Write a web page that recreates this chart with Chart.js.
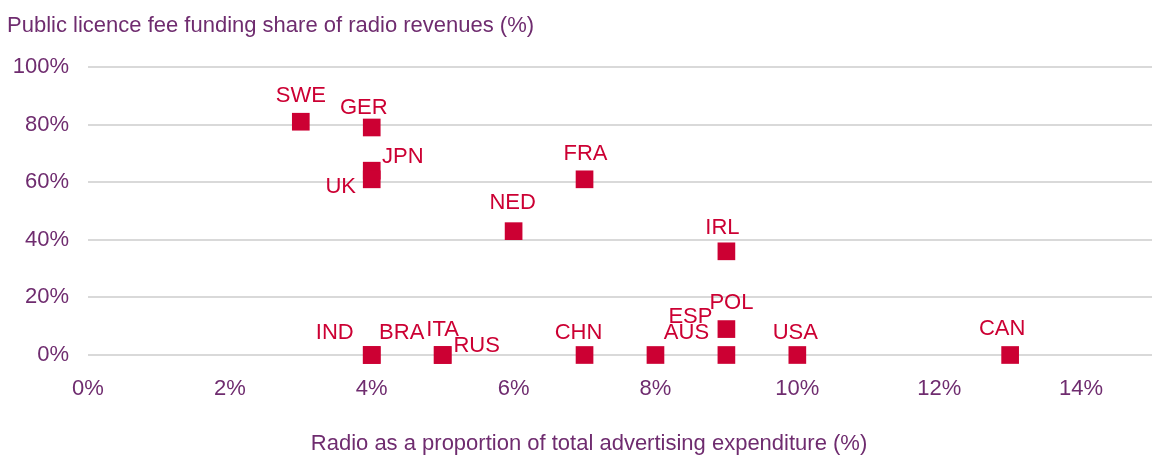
<!DOCTYPE html>
<html>
<head>
<meta charset="utf-8">
<script src="https://cdn.jsdelivr.net/npm/chart.js@4"></script>
<style>
  body { margin: 0; background: #fff; }
  #wrap { width: 1152px; height: 455px; }
</style>
</head>
<body>
<div id="wrap"><canvas id="radioChart" width="1152" height="455"></canvas></div>
<script>
// Radio: licence fee share vs share of ad spend
const countries = ['SWE', 'GER', 'JPN', 'UK', 'FRA', 'NED', 'IRL', 'POL', 'ESP', 'AUS', 'USA', 'CAN', 'CHN', 'IND', 'BRA', 'ITA', 'RUS']
const adSpendShare = [3, 4, 4, 4, 7, 6, 9, 9, 9, 8, 10, 13, 7, 4, 4, 5, 5]
const licenceShare = [81, 79, 64, 61, 61, 43, 36, 9, 0, 0, 0, 0, 0, 0, 0, 0, 0]
const xTicks = [0, 2, 4, 6, 8, 10, 12, 14]
const yTicks = [0, 20, 40, 60, 80, 100]

const xTitle = 'Radio as a proportion of total advertising expenditure (%)'
const yTitle = 'Public licence fee funding share of radio revenues (%)'

// label nudges (px) relative to each marker, like the hand-placed Excel labels
const labelNudge = [
  [0, -26], [-8, -20], [31, -14], [-31, 8], [1, -25], [-1, -28], [-4, -23],
  [5, -26], [-36, -38], [31, -22], [-2, -22], [-8, -26], [-6, -22],
  [-37, -22], [30, -22], [0, -25], [34, -9]
]

const RED = '#cc0033'
const PURPLE = '#6f2c6f'
const FONT = "'Liberation Sans', Arial, sans-serif"

const points = adSpendShare.map((x, i) => ({ x: x, y: licenceShare[i] }))

const labelsPlugin = {
  id: 'extras',
  afterDatasetsDraw(chart) {
    const ctx = chart.ctx
    const meta = chart.getDatasetMeta(0)
    ctx.save()
    ctx.font = '22px ' + FONT
    ctx.fillStyle = RED
    ctx.textAlign = 'center'
    ctx.textBaseline = 'middle'
    meta.data.forEach((pt, i) => {
      ctx.fillText(countries[i], pt.x + labelNudge[i][0], pt.y + labelNudge[i][1])
    })

    // axis titles
    ctx.fillStyle = PURPLE
    ctx.textAlign = 'left'
    ctx.textBaseline = 'alphabetic'
    ctx.fillText(yTitle, 7, 32)
    ctx.textAlign = 'center'
    ctx.fillText(xTitle, 589, 450)
    ctx.restore()
  }
}

new Chart(document.getElementById('radioChart'), {
  type: 'scatter',
  data: {
    datasets: [
      {
        label: 'Countries',
        data: points,
        clip: false,
        pointStyle: 'rect',
        pointRadius: 12.5,
        pointHoverRadius: 12.5,
        backgroundColor: RED,
        borderWidth: 0
      }
    ]
  },
  options: {
    responsive: false,
    animation: false,
    layout: { autoPadding: false, padding: { top: 67, right: 0, left: 0, bottom: 0 } },
    plugins: {
      legend: { display: false },
      tooltip: { enabled: false }
    },
    scales: {
      x: {
        type: 'linear',
        min: 0,
        max: 15,
        afterFit(scale) { scale.height = 100 },
        afterBuildTicks(scale) { scale.ticks = xTicks.map(v => ({ value: v })) },
        grid: { display: false, drawTicks: false },
        border: { display: false },
        ticks: {
          padding: 21,
          color: PURPLE,
          font: { family: FONT, size: 22 },
          callback: v => v + '%'
        }
      },
      y: {
        type: 'linear',
        min: 0,
        max: 100,
        afterFit(scale) { scale.width = 88 },
        afterBuildTicks(scale) { scale.ticks = yTicks.map(v => ({ value: v })) },
        grid: { color: '#d9d9d9', lineWidth: 2, drawTicks: false },
        border: { display: false },
        ticks: {
          padding: 19,
          color: PURPLE,
          font: { family: FONT, size: 22 },
          callback: v => v + '%'
        }
      }
    }
  },
  plugins: [labelsPlugin]
})
</script>
</body>
</html>
